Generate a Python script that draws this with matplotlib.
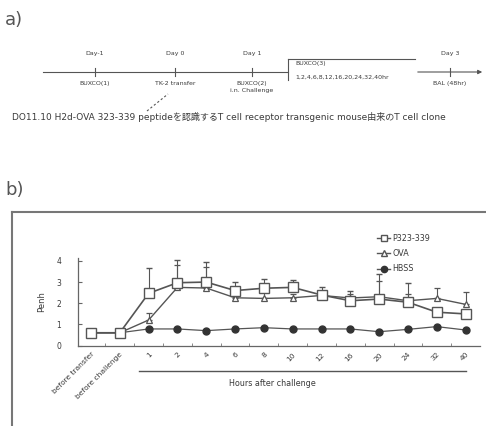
import numpy as np
import matplotlib.pyplot as plt
from matplotlib.lines import Line2D

plt.rcParams['font.family'] = ['DejaVu Sans', 'Noto Sans CJK JP']

# panel b data
categories = ['before transfer', 'before challenge', '1', '2', '4', '6', '8',
              '10', '12', '16', '20', '24', '32', '40']
p323 = [0.61, 0.61, 2.47, 2.97, 3.00, 2.60, 2.71, 2.75, 2.39, 2.12, 2.20, 2.05, 1.58, 1.50]
p323_err = [0, 0, 1.18, 1.07, 0.96, 0.42, 0.42, 0.35, 0.36, 0.48, 1.18, 0.89, 0.15, 0.10]
ova = [0.61, 0.61, 1.21, 2.75, 2.72, 2.26, 2.23, 2.26, 2.37, 2.25, 2.31, 2.12, 2.23, 1.95]
ova_err = [0, 0, 0.35, 1.05, 1.00, 0.20, 0.30, 0.20, 0.10, 0.20, 0.75, 0.30, 0.48, 0.57]
hbss = [0.61, 0.61, 0.79, 0.79, 0.71, 0.79, 0.85, 0.79, 0.79, 0.79, 0.66, 0.77, 0.90, 0.74]

# panel a timeline
day_labels = ['Day-1', 'Day 0', 'Day 1', 'Day 3']
day_x = [95, 175, 252, 450]
event_labels = ['BUXCO(1)', 'TK-2 transfer', 'BUXCO(2)\ni.n. Challenge', 'BAL (48hr)']

W, H = 486, 426
fig = plt.figure(figsize=(W / 100, H / 100), dpi=100)
txt = '#3a3a3a'
lc = '#555555'

# overlay in pixel coordinates
ov = fig.add_axes([0, 0, 1, 1])
ov.set_xlim(0, W)
ov.set_ylim(H, 0)
ov.axis('off')

ov.text(5, 20, 'a)', fontsize=13, color='#555', va='center', ha='left')
ov.text(5, 190, 'b)', fontsize=13, color='#555', va='center', ha='left')

# timeline
ov.plot([43, 288], [72, 72], color=lc, lw=0.8)
ov.annotate('', xy=(485, 72), xytext=(415, 72),
            arrowprops=dict(arrowstyle='-|>', color=lc, lw=0.8, mutation_scale=6))
ov.plot([288, 415], [59, 59], color=lc, lw=0.8)
ov.plot([288, 288], [59, 80], color=lc, lw=0.8)
for lab, x, ev in zip(day_labels, day_x, event_labels):
    ov.plot([x, x], [68, 76], color=lc, lw=0.8)
    ov.text(x, 53, lab, fontsize=4.5, color=txt, ha='center', va='center')
    ov.text(x, 81, ev, fontsize=4.5, color=txt, ha='center', va='top', linespacing=1.6)
ov.text(295, 64, 'BUXCO(3)', fontsize=4.5, color=txt, ha='left', va='center')
ov.text(295, 77, '1,2,4,6,8,12,16,20,24,32,40hr', fontsize=4.5, color=txt,
        ha='left', va='center')
ov.plot([147, 168], [111, 94], color=lc, lw=0.8, ls=(0, (2, 2)))
ov.text(12, 117, 'DO11.10 H2d-OVA 323-339 peptideを認識するT cell receptor '
        'transgenic mouse由来のT cell clone', fontsize=6.5, color=txt,
        ha='left', va='center')

# panel b frame
ov.plot([12, 12], [212, H], color='#777', lw=1.5)
ov.plot([12, W], [212, 212], color='#777', lw=1.5)

# hours after challenge
ov.plot([139, 466], [371, 371], color=lc, lw=1.0)
ov.text(272, 384, 'Hours after challenge', fontsize=5.8, color=txt,
        ha='center', va='center')
ov.text(42, 302, 'Penh', fontsize=6, color=txt, rotation=90, ha='center', va='center')

# main plot
ax = fig.add_axes([78 / W, 1 - 345.7 / H, (480 - 78) / W, (345.7 - 257.7) / H])
ax.patch.set_alpha(0)
x = np.arange(len(categories))

ax.errorbar(x, p323, yerr=[np.zeros(len(x)), p323_err], color=lc, lw=1.2,
            marker='s', ms=6.5, mfc='white', mec=lc, mew=1.0,
            capsize=2, elinewidth=0.8, zorder=3)
ax.errorbar(x, ova, yerr=[np.zeros(len(x)), ova_err], color=lc, lw=1.0,
            marker='^', ms=4.5, mfc='white', mec=lc, mew=0.9,
            capsize=2, elinewidth=0.8, zorder=2)
ax.plot(x, hbss, color=lc, lw=0.9, marker='o', ms=5, mfc='#333', mec='#333',
        zorder=1)

ax.set_xlim(-0.45, 13.5)
ax.set_ylim(0, 4.15)
ax.spines['top'].set_visible(False)
ax.spines['right'].set_visible(False)
for s in ['left', 'bottom']:
    ax.spines[s].set_color('#666')
    ax.spines[s].set_linewidth(0.9)

ax.set_yticks([0, 1, 2, 3, 4])
ax.tick_params(axis='y', direction='in', length=3, labelsize=5.5,
               labelcolor=txt, color='#666', pad=12)
ax.set_xticks(x)
ax.set_xticklabels(categories, rotation=45, ha='right', rotation_mode='anchor',
                   fontsize=5.4, color=txt)
ax.tick_params(axis='x', which='major', length=0, pad=4)
ax.set_xticks(x[:-1] + 0.5, minor=True)
ax.tick_params(axis='x', which='minor', direction='in', length=2.5, color='#777')

handles = [
    Line2D([], [], color=lc, lw=1.0, marker='s', ms=5, mfc='white', mec=lc),
    Line2D([], [], color=lc, lw=1.0, marker='^', ms=4, mfc='white', mec=lc),
    Line2D([], [], color=lc, lw=1.0, marker='o', ms=4.5, mfc='#333', mec='#333'),
]
ax.legend(handles, ['P323-339', 'OVA', 'HBSS'], loc='upper left',
          bbox_to_anchor=(370 / W, 1 - 227 / H),
          bbox_transform=fig.transFigure, frameon=False, fontsize=5.8,
          handlelength=1.6, handletextpad=0.3, labelspacing=0.75,
          labelcolor=txt)

fig.savefig('out.png', dpi=100)
